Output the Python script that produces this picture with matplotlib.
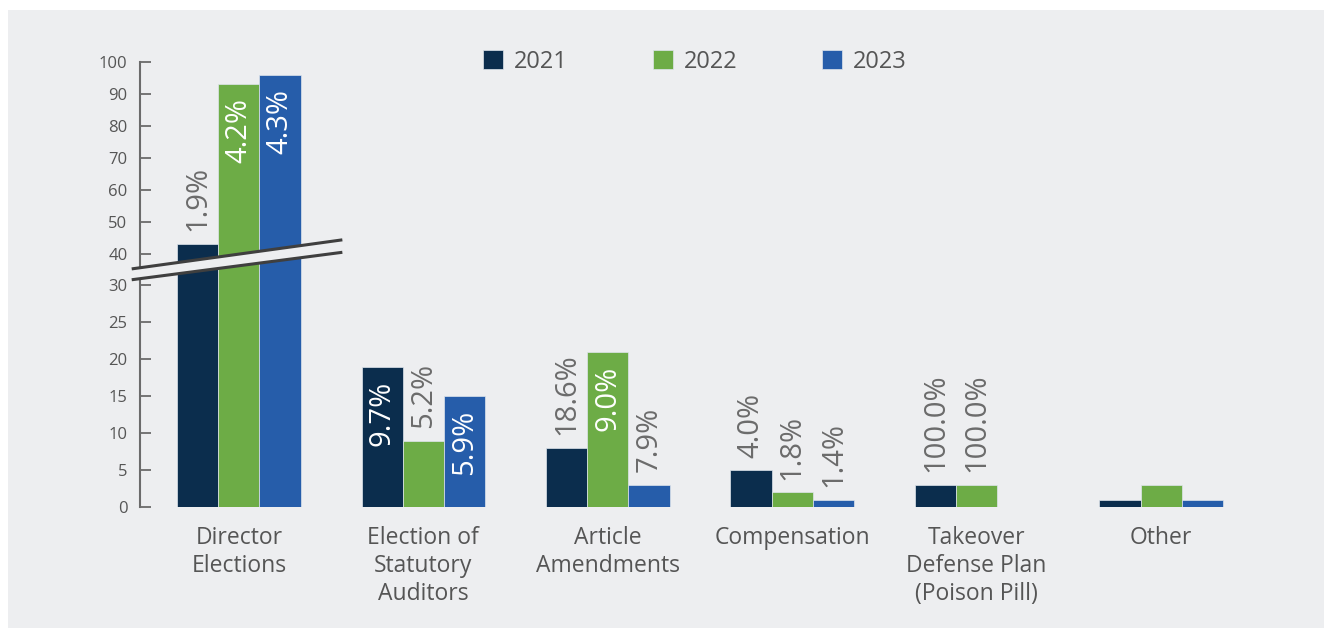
"""Proposal categories by year, broken y-axis bar chart"""
import matplotlib
matplotlib.use("Agg")
import matplotlib.pyplot as plt
from matplotlib.patches import Rectangle, Polygon
import numpy as np

plt.rcParams['font.family'] = ['Open Sans', 'DejaVu Sans']

categories = ['Director\nElections', 'Election of\nStatutory\nAuditors', 'Article\nAmendments',
              'Compensation', 'Takeover\nDefense Plan\n(Poison Pill)', 'Other']
years = ['2021', '2022', '2023']
values_2021 = [43, 19, 8, 5, 3, 1]
values_2022 = [93, 9, 21, 2, 3, 3]
values_2023 = [96, 15, 3, 1, 0, 1]
labels_2021 = ['1.9%', '9.7%', '18.6%', '4.0%', '100.0%', None]
labels_2022 = ['4.2%', '5.2%', '9.0%', '1.8%', '100.0%', None]
labels_2023 = ['4.3%', '5.9%', '7.9%', '1.4%', None, None]
# which labels sit inside the top of their bar (white) instead of above it
inside_2021 = [False, True, False, False, False, False]
inside_2022 = [True, False, True, False, False, False]
inside_2023 = [True, True, False, False, False, False]
y_ticks = [0, 5, 10, 15, 20, 25, 30, 40, 50, 60, 70, 80, 90, 100]

colors = ['#0B2D4D', '#6DAC46', '#265DAA']
BG = '#EDEEF0'
TEXT = '#555555'
AXIS = '#6B6B6B'

# compressed scale above 30
BREAK = 30.0
K = 3.2 / 7.4


def forward(v):
    v = np.asarray(v, dtype=float)
    return np.where(v <= BREAK, v, BREAK + (v - BREAK) * K)


def inverse(y):
    y = np.asarray(y, dtype=float)
    return np.where(y <= BREAK, y, BREAK + (y - BREAK) / K)


fig = plt.figure(figsize=(13.24, 6.28), dpi=100)
fig.patch.set_facecolor('white')
panel = Rectangle((8 / 1324, 0), 1 - 8 / 1324, 1 - 10 / 628,
                  transform=fig.transFigure, facecolor=BG, edgecolor='none')
panel.set_zorder(-10)
fig.add_artist(panel)

ax = fig.add_axes([140 / 1324, 1 - 507 / 628, 1120 / 1324, 445 / 628])
ax.set_facecolor('none')
ax.set_yscale('function', functions=(forward, inverse))
ax.set_ylim(0, 100)

x = np.arange(len(categories))
width = 0.2234
series = [values_2021, values_2022, values_2023]
labels = [labels_2021, labels_2022, labels_2023]
inside = [inside_2021, inside_2022, inside_2023]

for i, (vals, labs, ins) in enumerate(zip(series, labels, inside)):
    xs = x + (i - 1) * width
    ax.bar(xs, vals, width, color=colors[i], label=years[i],
           edgecolor='#dfe5ec', linewidth=0.5, zorder=3)
    for xi, v, lab, inn in zip(xs, vals, labs, ins):
        if lab is None:
            continue
        if inn:
            ax.annotate(lab, (xi, v), xytext=(0, -10), textcoords='offset points',
                        rotation=90, ha='center', va='top', fontsize=21,
                        color='white', zorder=4)
        else:
            ax.annotate(lab, (xi, v), xytext=(0, 9), textcoords='offset points',
                        rotation=90, ha='center', va='bottom', fontsize=21,
                        color=AXIS, zorder=4)

ax.set_xlim(-0.536, 5.536)
ax.set_xticks(x)
ax.set_xticklabels(categories, fontsize=16.5, color=TEXT, linespacing=1.2)
ax.tick_params(axis='x', length=0, pad=14)

ax.set_yticks(y_ticks)
ax.set_yticklabels([str(t) for t in y_ticks], fontsize=12, color=TEXT)
ax.tick_params(axis='y', direction='in', length=8, width=1.3, color=AXIS, pad=9)
ax.minorticks_off()

for side in ['top', 'right', 'bottom']:
    ax.spines[side].set_visible(False)
ax.spines['left'].set_color(AXIS)
ax.spines['left'].set_linewidth(1.5)

# axis break band across the first group
upper = [(-0.581, 35.2), (0.561, 44.3)]
lower = [(-0.581, 31.8), (0.561, 40.4)]
band = Polygon([upper[0], upper[1], lower[1], lower[0]], closed=True,
               facecolor=BG, edgecolor='none', zorder=6, clip_on=False)
ax.add_patch(band)
for seg in (upper, lower):
    ax.plot([seg[0][0], seg[1][0]], [seg[0][1], seg[1][1]], color='#3F3F3F',
            linewidth=2.2, zorder=7, clip_on=False, solid_capstyle='butt')

leg = ax.legend(loc='center', bbox_to_anchor=(0.4955, 1.0), ncol=3,
                frameon=False, fontsize=17, handlelength=0.85, handleheight=0.85,
                handletextpad=0.45, columnspacing=3.6, borderpad=0)
for t in leg.get_texts():
    t.set_color(TEXT)

fig.savefig('out.png', dpi=100, facecolor=fig.get_facecolor())
